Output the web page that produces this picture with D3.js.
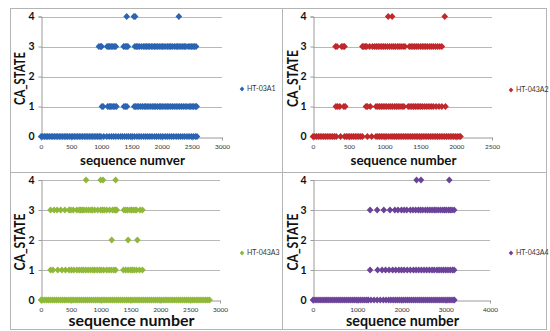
<!DOCTYPE html>
<html>
<head>
<meta charset="utf-8">
<script src="https://cdn.jsdelivr.net/npm/d3@7"></script>
<style>
  html, body { margin: 0; padding: 0; background: #fff; }
  svg { display: block; }
</style>
</head>
<body>
<svg id="chart" width="550" height="331"></svg>
<script>
// Series names and axis tick labels
const seriesNames = ["HT-03A1", "HT-043A2", "HT-043A3", "HT-043A4"];
const yTicks = [0, 1, 2, 3, 4];
const xTicksA1 = [0, 500, 1000, 1500, 2000, 2500, 3000];
const xTicksA2 = [0, 500, 1000, 1500, 2000, 2500];
const xTicksA3 = [0, 500, 1000, 1500, 2000, 2500, 3000];
const xTicksA4 = [0, 1000, 2000, 3000, 4000];
const xLabels = ["sequence numver", "sequence number", "sequence number", "sequence number"];

// HT-03A1: sequence numbers observed at each CA_STATE
const a1State0 = [2, 30, 58, 85, 112, 140, 168, 195, 222, 250, 278, 305, 332, 360, 388, 415, 442, 470, 498, 525, 552, 580, 608, 635, 662, 690, 718, 745, 772, 800, 828, 855, 882, 910, 938, 965, 992, 1040, 1090, 1130, 1170, 1205, 1240, 1280, 1320, 1350, 1385, 1420, 1450, 1485, 1515, 1550, 1590, 1625, 1660, 1700, 1735, 1770, 1805, 1840, 1880, 1915, 1950, 1985, 2020, 2060, 2095, 2130, 2165, 2200, 2240, 2275, 2310, 2345, 2380, 2420, 2455, 2490, 2525, 2560, 2585];
const a1State1 = [1010, 1030, 1105, 1130, 1150, 1175, 1200, 1225, 1250, 1375, 1400, 1425, 1545, 1570, 1595, 1620, 1650, 1680, 1710, 1735, 1760, 1790, 1820, 1850, 1875, 1900, 1930, 1960, 1985, 2010, 2040, 2070, 2095, 2120, 2150, 2180, 2210, 2240, 2270, 2300, 2330, 2360, 2390, 2420, 2455, 2480, 2505, 2530, 2560, 2580];
const a1State2 = [];
const a1State3 = [960, 985, 1005, 1095, 1120, 1140, 1165, 1190, 1215, 1240, 1370, 1395, 1420, 1440, 1555, 1580, 1605, 1630, 1665, 1700, 1725, 1750, 1775, 1800, 1830, 1855, 1880, 1905, 1930, 1960, 1990, 2015, 2040, 2070, 2100, 2125, 2150, 2175, 2210, 2240, 2265, 2290, 2320, 2350, 2375, 2400, 2440, 2470, 2495, 2520, 2545, 2570];
const a1State4 = [1420, 1540, 1560, 2285];

// HT-043A2
const a2State0 = [0, 25, 50, 75, 100, 125, 150, 175, 200, 225, 250, 275, 300, 325, 385, 440, 465, 490, 515, 540, 565, 590, 615, 640, 665, 690, 760, 820, 880, 905, 930, 955, 980, 1005, 1030, 1060, 1090, 1115, 1140, 1165, 1190, 1215, 1240, 1265, 1290, 1315, 1340, 1365, 1390, 1415, 1440, 1465, 1490, 1515, 1540, 1565, 1590, 1615, 1640, 1665, 1690, 1715, 1740, 1765, 1790, 1815, 1840, 1865, 1890, 1915, 1940, 1965, 1990, 2015, 2040, 2060];
const a2State1 = [320, 345, 375, 430, 450, 740, 760, 800, 880, 905, 930, 955, 980, 1005, 1030, 1060, 1085, 1110, 1140, 1165, 1190, 1215, 1245, 1270, 1330, 1355, 1380, 1405, 1430, 1455, 1480, 1505, 1530, 1560, 1590, 1620, 1650, 1680, 1720, 1760, 1800, 1850];
const a2State2 = [];
const a2State3 = [315, 335, 400, 420, 440, 690, 710, 730, 750, 790, 830, 860, 885, 910, 935, 960, 985, 1010, 1040, 1070, 1100, 1125, 1150, 1180, 1205, 1230, 1260, 1285, 1345, 1370, 1395, 1420, 1445, 1470, 1500, 1525, 1550, 1575, 1600, 1630, 1655, 1680, 1710, 1740, 1770, 1800];
const a2State4 = [1050, 1105, 1840];

// HT-043A3
const a3State0 = [0, 32, 65, 98, 130, 162, 195, 228, 260, 292, 325, 358, 390, 422, 455, 488, 520, 552, 585, 618, 650, 682, 715, 748, 780, 812, 845, 878, 910, 942, 975, 1008, 1040, 1072, 1105, 1138, 1170, 1202, 1235, 1268, 1300, 1332, 1365, 1398, 1430, 1462, 1495, 1528, 1560, 1592, 1625, 1658, 1690, 1722, 1755, 1788, 1820, 1852, 1885, 1918, 1950, 1982, 2015, 2048, 2080, 2112, 2145, 2178, 2210, 2242, 2275, 2308, 2340, 2372, 2405, 2438, 2470, 2502, 2535, 2568, 2600, 2632, 2665, 2698, 2730, 2762, 2795, 2825];
const a3State1 = [160, 200, 280, 350, 410, 470, 510, 550, 600, 640, 680, 710, 750, 790, 830, 870, 900, 940, 980, 1010, 1050, 1100, 1140, 1180, 1220, 1250, 1380, 1420, 1460, 1500, 1530, 1560, 1600, 1650, 1700];
const a3State2 = [1185, 1460, 1615];
const a3State3 = [160, 220, 270, 330, 400, 470, 500, 540, 600, 640, 665, 690, 720, 760, 800, 840, 860, 900, 950, 1000, 1030, 1060, 1100, 1150, 1200, 1230, 1250, 1270, 1390, 1420, 1450, 1490, 1520, 1550, 1580, 1600, 1660, 1700];
const a3State4 = [755, 1000, 1040, 1250];

// HT-043A4
const a4State0 = [0, 45, 90, 135, 180, 225, 270, 315, 360, 405, 450, 495, 540, 585, 630, 675, 720, 765, 810, 855, 900, 945, 990, 1035, 1080, 1125, 1170, 1215, 1250, 1310, 1380, 1450, 1520, 1590, 1650, 1710, 1760, 1810, 1860, 1905, 1950, 1995, 2040, 2085, 2130, 2175, 2220, 2265, 2310, 2355, 2400, 2445, 2490, 2535, 2580, 2625, 2670, 2715, 2760, 2805, 2850, 2895, 2940, 2985, 3030, 3075, 3120, 3165, 3195];
const a4State1 = [1290, 1460, 1560, 1640, 1720, 1800, 1870, 1940, 2000, 2060, 2130, 2200, 2270, 2330, 2390, 2450, 2510, 2570, 2630, 2690, 2740, 2800, 2850, 2900, 2950, 3000, 3050, 3100, 3150, 3190];
const a4State2 = [];
const a4State3 = [1290, 1450, 1600, 1740, 1850, 1920, 2000, 2060, 2120, 2200, 2260, 2320, 2380, 2430, 2480, 2540, 2590, 2640, 2690, 2740, 2780, 2830, 2880, 2930, 2970, 3010, 3060, 3100, 3140, 3190];
const a4State4 = [2340, 2440, 3080];

// Build point tables {x, y} from the per-state lists
function points(lists) {
  const out = [];
  lists.forEach((xs, state) => xs.forEach(x => out.push({ x, y: state })));
  return out;
}

const panels = [
  {
    name: seriesNames[0], color: "#2a64b2", xLabel: xLabels[0], xTicks: xTicksA1,
    data: points([a1State0, a1State1, a1State2, a1State3, a1State4]),
    frame: [10, 8, 282, 172], plot: { x0: 41, x1: 222, y0: 136.5, y1: 16.5 },
    yLabelX: 20, xLabelY: 164.5, xLabelSize: 14, yLabelLen: 53, xLabelLen: 105,
    tickLabelY: 148, legend: [242, 89]
  },
  {
    name: seriesNames[1], color: "#c0282b", xLabel: xLabels[1], xTicks: xTicksA2,
    data: points([a2State0, a2State1, a2State2, a2State3, a2State4]),
    frame: [282, 8, 546, 172], plot: { x0: 313, x1: 492, y0: 136.5, y1: 16.5 },
    yLabelX: 293, xLabelY: 164.5, xLabelSize: 14, yLabelLen: 57, xLabelLen: 106,
    tickLabelY: 148, legend: [511, 90]
  },
  {
    name: seriesNames[2], color: "#8fb838", xLabel: xLabels[2], xTicks: xTicksA3,
    data: points([a3State0, a3State1, a3State2, a3State3, a3State4]),
    frame: [10, 172, 282, 329], plot: { x0: 41, x1: 220, y0: 300, y1: 180 },
    yLabelX: 20, xLabelY: 326, xLabelSize: 15, yLabelLen: 57, xLabelLen: 126,
    tickLabelY: 311, legend: [242, 253]
  },
  {
    name: seriesNames[3], color: "#6a4398", xLabel: xLabels[3], xTicks: xTicksA4,
    data: points([a4State0, a4State1, a4State2, a4State3, a4State4]),
    frame: [282, 172, 546, 329], plot: { x0: 313, x1: 490, y0: 300, y1: 180 },
    yLabelX: 293, xLabelY: 326, xLabelSize: 15, yLabelLen: 57, xLabelLen: 113,
    tickLabelY: 311, legend: [511, 253]
  }
];

const svg = d3.select("#chart");
const font = "Lato, 'Open Sans', 'DejaVu Sans', sans-serif";
const diamond = (w, h) => `M0,${-h}L${w},0L0,${h}L${-w},0Z`;

panels.forEach(p => {
  const g = svg.append("g");
  const [fx0, fy0, fx1, fy1] = p.frame;
  g.append("rect")
    .attr("x", fx0 + 0.5).attr("y", fy0 + 0.5)
    .attr("width", fx1 - fx0).attr("height", fy1 - fy0)
    .attr("fill", "none").attr("stroke", "#b4b4b4").attr("stroke-width", 1);

  const xMax = p.xTicks[p.xTicks.length - 1];
  const x = d3.scaleLinear().domain([0, xMax]).range([p.plot.x0, p.plot.x1]);
  const y = d3.scaleLinear().domain([0, 4]).range([p.plot.y0, p.plot.y1]);

  // horizontal gridlines
  g.append("g").selectAll("line").data(yTicks.filter(t => t > 0)).join("line")
    .attr("x1", p.plot.x0).attr("x2", p.plot.x1)
    .attr("y1", d => Math.round(y(d)) + 0.5).attr("y2", d => Math.round(y(d)) + 0.5)
    .attr("stroke", "#b8b8b8").attr("stroke-width", 1);

  // y axis
  const yAxis = g.append("g")
    .attr("transform", `translate(${Math.round(p.plot.x0) + 0.5},0)`)
    .call(d3.axisLeft(y).tickValues(yTicks).tickSize(3).tickPadding(4).tickFormat(d3.format("d")));
  yAxis.select(".domain").attr("stroke", "#9a9a9a");
  yAxis.selectAll(".tick line").attr("stroke", "#9a9a9a");
  yAxis.selectAll(".tick text")
    .attr("font-family", font).attr("font-size", 10.5).attr("font-weight", "bold").attr("fill", "#111");

  // x axis
  const xAxis = g.append("g")
    .attr("transform", `translate(0,${Math.round(p.plot.y0) + 0.5})`)
    .call(d3.axisBottom(x).tickValues(p.xTicks).tickSize(3).tickSizeOuter(0).tickPadding(3).tickFormat(d3.format("d")));
  xAxis.select(".domain").attr("stroke", "#9a9a9a");
  xAxis.selectAll(".tick line").attr("stroke", "#9a9a9a");
  xAxis.selectAll(".tick text")
    .attr("font-family", font).attr("font-size", 6.5).attr("fill", "#333")
    .attr("dy", null).attr("y", p.tickLabelY - p.plot.y0);

  // points
  g.append("g").selectAll("path").data(p.data).join("path")
    .attr("transform", d => `translate(${x(d.x)},${y(d.y)})`)
    .attr("d", diamond(3.3, 3.6))
    .attr("fill", p.color);

  // axis titles
  g.append("text")
    .attr("transform", `translate(${p.yLabelX},${(p.plot.y0 + p.plot.y1) / 2 + 2}) rotate(-90)`)
    .attr("text-anchor", "middle").attr("dy", "0.35em")
    .attr("font-family", font).attr("font-size", 15).attr("font-weight", "bold").attr("fill", "#111")
    .attr("textLength", p.yLabelLen).attr("lengthAdjust", "spacingAndGlyphs")
    .text("CA_STATE");

  g.append("text")
    .attr("x", (p.plot.x0 + p.plot.x1) / 2 + 1).attr("y", p.xLabelY)
    .attr("text-anchor", "middle")
    .attr("font-family", font).attr("font-size", p.xLabelSize).attr("font-weight", "bold").attr("fill", "#111")
    .attr("textLength", p.xLabelLen).attr("lengthAdjust", "spacingAndGlyphs")
    .text(p.xLabel);

  // legend
  const [lx, ly] = p.legend;
  g.append("path").attr("transform", `translate(${lx},${ly})`)
    .attr("d", diamond(2.3, 2.6)).attr("fill", p.color);
  g.append("text").attr("x", lx + 5).attr("y", ly).attr("dy", "0.35em")
    .attr("font-family", font).attr("font-size", 7).attr("fill", "#333")
    .text(p.name);
});
</script>
</body>
</html>
